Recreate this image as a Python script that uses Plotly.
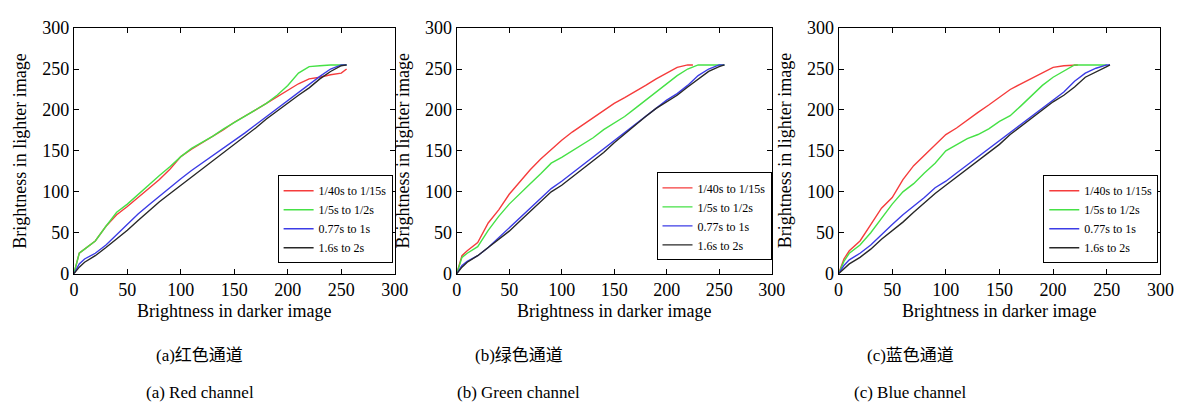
import plotly.graph_objects as go

# ---------------- data ----------------
X_FULL = [0, 5, 10, 20, 30, 40, 50, 60, 70, 80, 90, 100, 110, 120, 130, 140, 150,
          160, 170, 180, 190, 200, 210, 220, 230, 240, 250, 255]

# (a) red channel
red_a = [0, 25, 30, 40, 58, 72, 82, 93, 103, 115, 128, 143, 152, 160, 167, 176, 185,
         192, 200, 208, 216, 225, 232, 238, 240, 243, 245, 250]
green_a = [0, 25, 30, 40, 58, 75, 85, 97, 108, 120, 131, 143, 153, 160, 168, 177, 185,
           192, 200, 208, 218, 230, 245, 253, 254, 255, 255, 255]
blue_a = [0, 12, 18, 25, 35, 48, 60, 73, 84, 95, 106, 116, 126, 135, 144, 153, 162,
          172, 182, 192, 202, 212, 221, 231, 241, 250, 255, 255]
black_a = [0, 8, 14, 22, 32, 42, 53, 65, 77, 88, 98, 108, 118, 127, 137, 147, 157,
           167, 178, 189, 199, 208, 218, 227, 238, 247, 254, 255]

# (b) green channel
x_red_b = [0, 5, 10, 20, 30, 40, 50, 60, 70, 80, 90, 100, 110, 120, 130, 140, 150,
           160, 170, 180, 190, 200, 210, 220, 225]
red_b = [0, 22, 28, 38, 62, 78, 97, 112, 127, 140, 152, 163, 173, 182, 190, 199, 208,
         215, 222, 230, 238, 245, 252, 255, 255]
green_b = [0, 20, 25, 33, 53, 70, 85, 98, 110, 122, 135, 142, 150, 158, 166, 176, 184,
           192, 202, 212, 222, 232, 242, 250, 255, 255, 255, 255]
blue_b = [0, 10, 15, 22, 32, 44, 55, 68, 80, 92, 104, 113, 123, 133, 142, 152, 162,
          172, 182, 192, 202, 212, 220, 230, 242, 250, 255, 255]
black_b = [0, 8, 14, 22, 32, 42, 52, 64, 76, 88, 100, 108, 118, 128, 138, 148, 160,
           171, 181, 192, 202, 210, 218, 228, 238, 247, 253, 255]

# (c) blue channel
x_red_c = [0, 5, 10, 20, 30, 40, 50, 60, 70, 80, 90, 100, 110, 120, 130, 140, 150,
           160, 170, 180, 190, 200, 210, 220, 223]
red_c = [0, 18, 28, 40, 60, 80, 93, 115, 132, 145, 158, 170, 178, 188, 197, 206, 216,
         225, 232, 239, 245, 252, 254, 255, 255]
x_green_c = [0, 5, 10, 20, 30, 40, 50, 60, 70, 80, 90, 100, 110, 120, 130, 140, 150,
             160, 170, 180, 190, 200, 210, 220, 230, 240, 250]
green_c = [0, 15, 25, 35, 50, 68, 85, 100, 110, 123, 135, 150, 158, 165, 170, 177, 186,
           193, 205, 217, 230, 240, 248, 255, 255, 255, 255]
x_end_c = [0, 5, 10, 20, 30, 40, 50, 60, 70, 80, 90, 100, 110, 120, 130, 140, 150,
           160, 170, 180, 190, 200, 210, 220, 230, 240, 250, 253]
blue_c = [0, 10, 17, 25, 35, 48, 60, 72, 82, 93, 105, 113, 123, 133, 142, 152, 162,
          172, 183, 193, 202, 212, 222, 235, 245, 251, 255, 255]
black_c = [0, 6, 12, 20, 30, 42, 52, 63, 75, 87, 98, 108, 118, 127, 137, 147, 158,
           170, 180, 191, 201, 210, 218, 228, 240, 247, 253, 255]

SERIES_NAMES = ["1/40s to 1/15s", "1/5s to 1/2s", "0.77s to 1s", "1.6s to 2s"]
TICKS = [0, 50, 100, 150, 200, 250, 300]
X_TITLE = "Brightness in darker image"
Y_TITLE = "Brightness in lighter image"
CAPTIONS_CN = ["(a)红色通道", "(b)绿色通道", "(c)蓝色通道"]
CAPTIONS_EN = ["(a) Red channel", "(b) Green channel", "(c) Blue channel"]

# ---------------- style ----------------
COLORS = ["rgb(245,60,60)", "rgb(70,225,70)", "rgb(60,60,230)", "rgb(40,40,40)"]
SERIF = "Liberation Serif, Times New Roman, serif"
CAP_FONT = "Liberation Serif, Noto Sans CJK SC, serif"
W, H = 1198, 417

panels = [
    [(X_FULL, red_a), (X_FULL, green_a), (X_FULL, blue_a), (X_FULL, black_a)],
    [(x_red_b, red_b), (X_FULL, green_b), (X_FULL, blue_b), (X_FULL, black_b)],
    [(x_red_c, red_c), (x_green_c, green_c), (x_end_c, blue_c), (x_end_c, black_c)],
]

# pixel geometry of the three plot areas
x_px = [(70, 396), (459, 779), (847, 1174)]
y_px = (19, 277)
legend_px = [(277, 266), (662, 263), (1055, 266)]  # left, bottom
caption_cx = [198, 522, 920]

fig = go.Figure()
legend_ids = ["legend", "legend2", "legend3"]

for p, series in enumerate(panels):
    ax = "" if p == 0 else str(p + 1)
    for s, (xs, ys) in enumerate(series):
        fig.add_trace(go.Scatter(
            x=xs, y=ys, mode="lines", name=SERIES_NAMES[s],
            line=dict(color=COLORS[s], width=1.4),
            xaxis="x" + ax, yaxis="y" + ax, legend=legend_ids[p],
        ))

layout = dict(
    width=W, height=H, margin=dict(l=0, r=0, t=0, b=0),
    paper_bgcolor="white", plot_bgcolor="white",
    font=dict(family=SERIF, size=18, color="black"),
    annotations=[],
)

axis_common = dict(
    range=[0, 300], tickmode="array", tickvals=TICKS,
    ticks="inside", ticklen=5, tickcolor="black", tickwidth=1,
    showline=True, linecolor="black", linewidth=1, mirror="ticks",
    showgrid=False, zeroline=False,
    tickfont=dict(family=SERIF, size=18, color="black"),
)

y_dom = [1 - y_px[1] / H, 1 - y_px[0] / H]
for p in range(3):
    ax = "" if p == 0 else str(p + 1)
    xd = [x_px[p][0] / W, x_px[p][1] / W]
    layout["xaxis" + ax] = dict(axis_common, domain=xd, anchor="y" + ax)
    layout["yaxis" + ax] = dict(axis_common, domain=y_dom, anchor="x" + ax)
    lx, lb = legend_px[p]
    layout[legend_ids[p]] = dict(
        x=lx / W, y=1 - lb / H, xanchor="left", yanchor="bottom",
        bgcolor="white", bordercolor="black", borderwidth=1,
        font=dict(family=SERIF, size=12, color="black"),
        tracegroupgap=0, itemwidth=30,
    )
    cx = (x_px[p][0] + x_px[p][1]) / 2
    layout["annotations"] += [
        dict(text=X_TITLE, x=cx / W, y=1 - 316 / H, xref="paper", yref="paper",
             showarrow=False, xanchor="center", yanchor="middle",
             font=dict(family=SERIF, size=18, color="black")),
        dict(text=Y_TITLE, x=(x_px[p][0] - 55) / W, y=1 - 148 / H, xref="paper", yref="paper",
             showarrow=False, xanchor="center", yanchor="middle", textangle=-90,
             font=dict(family=SERIF, size=18, color="black")),
        dict(text=CAPTIONS_CN[p], x=caption_cx[p] / W, y=1 - 363 / H, xref="paper", yref="paper",
             showarrow=False, xanchor="center", yanchor="middle",
             font=dict(family=CAP_FONT, size=17, color="black")),
        dict(text=CAPTIONS_EN[p], x=caption_cx[p] / W, y=1 - 402 / H, xref="paper", yref="paper",
             showarrow=False, xanchor="center", yanchor="middle",
             font=dict(family=CAP_FONT, size=17, color="black")),
    ]

fig.update_layout(**layout)
fig.write_html("out.html")
